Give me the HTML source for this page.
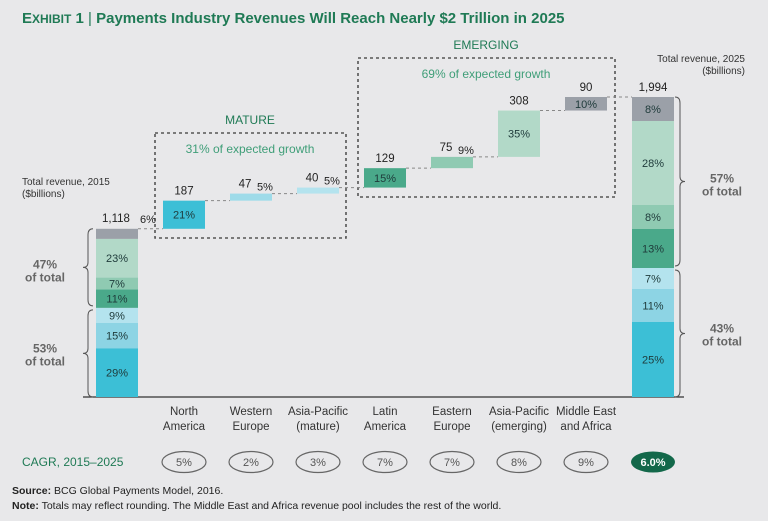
<!DOCTYPE html>
<html><head><meta charset="utf-8"><style>
body{margin:0;background:#e8e8ea;}
svg{display:block;font-family:"Liberation Sans",sans-serif;}
</style></head><body>
<svg id="c" width="768" height="521" viewBox="0 0 768 521">
<rect width="768" height="521" fill="#e8e8ea"/>
<text x="22" y="23" font-size="15" font-weight="bold" fill="#1f7a55"><tspan font-size="15">E</tspan><tspan font-size="12">XHIBIT</tspan> 1 <tspan font-weight="normal" fill="#1f7a55">|</tspan> Payments Industry Revenues Will Reach Nearly $2 Trillion in 2025</text>
<rect x="155" y="133" width="191" height="105" fill="none" stroke="#555" stroke-width="1.6" stroke-dasharray="3,3"/>
<rect x="358" y="58" width="257" height="139" fill="none" stroke="#555" stroke-width="1.6" stroke-dasharray="3,3"/>
<text x="250" y="124" font-size="12" fill="#1f7a55" text-anchor="middle">MATURE</text>
<text x="250" y="153" font-size="12" fill="#3f9e78" text-anchor="middle">31% of expected growth</text>
<text x="486" y="49" font-size="12" fill="#1f7a55" text-anchor="middle">EMERGING</text>
<text x="486" y="78" font-size="12" fill="#3f9e78" text-anchor="middle">69% of expected growth</text>
<text x="22" y="185" font-size="10" fill="#333">Total revenue, 2015</text>
<text x="22" y="197" font-size="10" fill="#333">($billions)</text>
<text x="745" y="62" font-size="10" fill="#333" text-anchor="end">Total revenue, 2025</text>
<text x="745" y="74" font-size="10" fill="#333" text-anchor="end">($billions)</text>
<line x1="83" y1="397" x2="684" y2="397" stroke="#333" stroke-width="1.2"/>
<text x="22" y="466" font-size="12" fill="#1f7a55">CAGR, 2015–2025</text>
<text x="12" y="494" font-size="10.5" fill="#222"><tspan font-weight="bold">Source:</tspan> BCG Global Payments Model, 2016.</text>
<text x="12" y="509" font-size="10.5" fill="#222"><tspan font-weight="bold">Note:</tspan> Totals may reflect rounding. The Middle East and Africa revenue pool includes the rest of the world.</text>
</svg>
<script>
const startTotal = 1118;
const endTotal = 1994;
const startShares = [29, 15, 9, 11, 7, 23, 6];
const endShares = [25, 11, 7, 13, 8, 28, 8];
const categories = ["North America","Western Europe","Asia-Pacific (mature)","Latin America","Eastern Europe","Asia-Pacific (emerging)","Middle East and Africa"];
const catLine1 = ["North","Western","Asia-Pacific","Latin","Eastern","Asia-Pacific","Middle East"];
const catLine2 = ["America","Europe","(mature)","America","Europe","(emerging)","and Africa"];
const increments = [187, 47, 40, 129, 75, 308, 90];
const incShares = [21, 5, 5, 15, 9, 35, 10];
const cagr = ["5%","2%","3%","7%","7%","8%","9%"];
const totalCagr = "6.0%";

const segColors = ["#3cbfd6","#8dd4e4","#b4e3ee","#4aa98a","#8fcab2","#b2d9c8","#9ba0a8"];
const incColors = ["#3cbfd6","#9edbe9","#b4e3ee","#4aa98a","#8fcab2","#b2d9c8","#9ba0a8"];
const NS="http://www.w3.org/2000/svg";
const svg=document.getElementById('c');
const base=397, scale=300/endTotal, barW=42;
const y=v=>base-v*scale;
const xCol=i=>96+i*67;
function el(t,a,p){const e=document.createElementNS(NS,t);for(const k in a)e.setAttribute(k,a[k]);(p||svg).appendChild(e);return e;}
function txt(x,yy,s,a){const e=el('text',Object.assign({x:x,y:yy,'font-size':11,fill:'#222','text-anchor':'middle'},a||{}));e.textContent=s;return e;}

function stack(col,total,shares,nm){
  let cum=0;const x=xCol(col);
  shares.forEach((s,i)=>{
    const v=total*s/100;const y0=y(cum),y1=y(cum+v);
    const r=el('rect',{x:x,y:y1,width:barW,height:y0-y1,fill:segColors[i]});
    
    
    if(i<6){const t=txt(x+barW/2,(y0+y1)/2+4,s+'%',{fill:'#1e3a3a'});
      
      }
    cum+=v;
  });
  return x;
}
const x0=stack(0,startTotal,startShares,'bar-2015');
let t=txt(x0+20,y(startTotal)-7,'1,118',{'font-size':11.5});

t=txt(x0+52,y(startTotal)-6,startShares[6]+'%',{'font-size':11});

const x8=stack(8,endTotal,endShares,'bar-2025');
t=txt(x8+21,y(endTotal)-6,'1,994',{'font-size':11.5});

t=txt(x8+21,y(endTotal)+16,endShares[6]+'%',{fill:'#1e3a3a'});


let cum=startTotal;
increments.forEach((v,i)=>{
  const x=xCol(i+1);const yb=y(cum),yt=y(cum+v);
  const prevX=xCol(i)+barW;
  const d=el('line',{x1:prevX,y1:yb,x2:x,y2:yb,stroke:'#888','stroke-dasharray':'3,3'});
  
  const r=el('rect',{x:x,y:yt,width:barW,height:Math.max(yb-yt,6),fill:incColors[i]});
  
  const h=yb-yt;
  if(h>12){const l=txt(x+barW/2,(yb+yt)/2+4,incShares[i]+'%',{fill:'#1e3a3a'});
    
    const vl=txt(x+barW/2,yt-6,String(v),{'font-size':11.5});
    }
  else{const vl=txt(x+barW/2-6,yt-6,String(v),{'font-size':11.5});
    
    const l=txt(x+barW/2+14,yt-3,incShares[i]+'%',{});
    }
  cum+=v;
});
const dl=el('line',{x1:xCol(7)+barW,y1:y(cum),x2:xCol(8),y2:y(cum),stroke:'#888','stroke-dasharray':'3,3'});


categories.forEach((c,i)=>{
  const cx=xCol(i+1)+barW/2;
  const a=txt(cx,415,catLine1[i],{'font-size':11.5,fill:'#333'});
  
  const b=txt(cx,430,catLine2[i],{'font-size':11.5,fill:'#333'});
  
  const e=el('ellipse',{cx:cx,cy:462,rx:22,ry:10.5,fill:'none',stroke:'#666','stroke-width':1.2});
  
  const ct=txt(cx,466,cagr[i],{'font-size':11,fill:'#555'});
  
});
const ex=xCol(8)+barW/2;
const te=el('ellipse',{cx:ex,cy:462,rx:22,ry:10.5,fill:'#13684a'});

const tt=txt(ex,466,totalCagr,{'font-size':11,fill:'#fff','font-weight':'bold'});


function brace(x,y1,y2,dir,nm){
  const m=(y1+y2)/2,w=5*dir;
  const p=el('path',{d:`M${x+w},${y1} Q${x},${y1} ${x},${y1+6} L${x},${m-5} Q${x},${m} ${x-w},${m} Q${x},${m} ${x},${m+5} L${x},${y2-6} Q${x},${y2} ${x+w},${y2}`,fill:'none',stroke:'#555','stroke-width':1});
  
}
function braceLabel(x,yy,pct,nm){
  const a=txt(x,yy,pct,{'font-size':12,fill:'#666','font-weight':'bold'});
  
  const b=txt(x,yy+13,'of total',{'font-size':12,fill:'#666','font-weight':'bold'});
  
}
const s53=startShares.slice(0,3).reduce((a,b)=>a+b,0), e43=endShares.slice(0,3).reduce((a,b)=>a+b,0);
const yS=y(startTotal*s53/100), yE=y(endTotal*e43/100);
brace(88,y(startTotal),yS-2,1,'brace-2015-emerging');
brace(88,yS+2,base,1,'brace-2015-mature');
braceLabel(45,(y(startTotal)+yS)/2,(100-s53)+'%','share-2015-emerging');
braceLabel(45,(yS+base)/2,s53+'%','share-2015-mature');
brace(680,y(endTotal),yE-2,-1,'brace-2025-emerging');
brace(680,yE+2,base,-1,'brace-2025-mature');
braceLabel(722,(y(endTotal)+yE)/2,(100-e43)+'%','share-2025-emerging');
braceLabel(722,(yE+base)/2,e43+'%','share-2025-mature');
</script>
</body></html>
